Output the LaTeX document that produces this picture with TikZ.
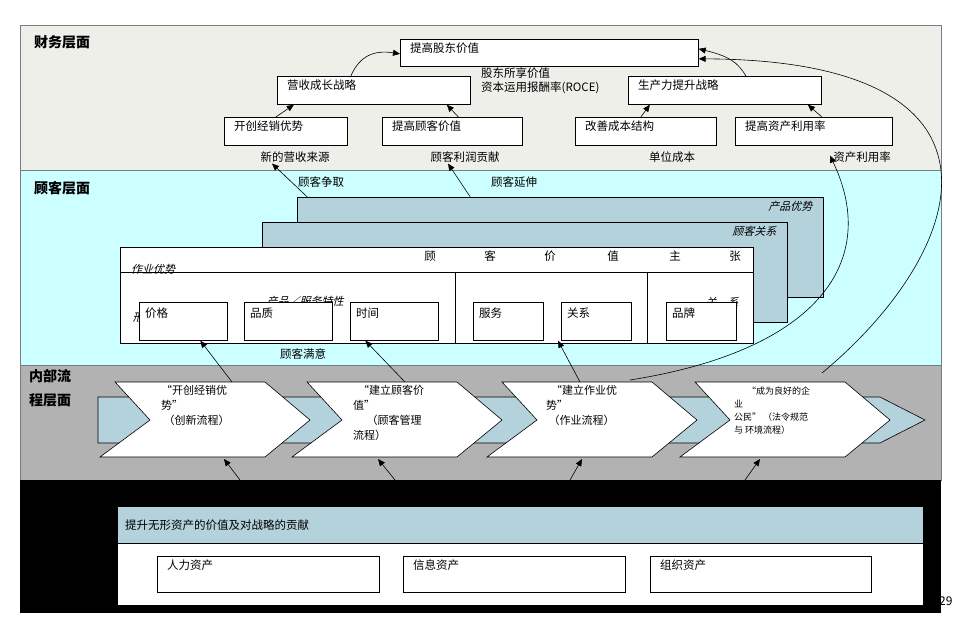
\documentclass[tikz,border=0pt]{standalone}
\usepackage{fontspec}
\setmainfont{Noto Sans CJK SC}
\newfontfamily\slfont{Noto Sans CJK SC}[FakeSlant=0.25]
\usetikzlibrary{arrows.meta}
\definecolor{finbg}{HTML}{EFEFEA}
\definecolor{custbg}{HTML}{CCFFFF}
\definecolor{intbg}{HTML}{B2B2B2}
\definecolor{cardbl}{HTML}{B4D2DC}
\tikzset{
  every node/.style={font=\fontsize{11.5}{13}\selectfont, inner sep=1pt},
  box/.style={draw=black, fill=white, line width=0.7pt, anchor=north west, inner sep=0pt},
  lbl/.style={anchor=north west, inner sep=0pt, xshift=10pt, yshift=-4pt},
  card/.style={draw=black, fill=cardbl, line width=0.6pt, anchor=north west, inner sep=0pt},
  arr/.style={-{Triangle[length=7pt,width=6pt]}, line width=0.6pt},
  title/.style={anchor=north west, font=\fontsize{14}{16}\selectfont\bfseries},
  chev/.style={draw=black, fill=white, line width=0.6pt},
  ctext/.style={anchor=north west, align=left, font=\fontsize{11}{15}\selectfont},
}
\begin{document}
\begin{tikzpicture}[x=1pt,y=-1pt]
\useasboundingbox (0,0) rectangle (959,618);
\fill[white] (0,0) rectangle (959,618);
% bands
\draw[fill=finbg, draw=black!60!cyan!40!gray] (20,25) rectangle (941,170);
\draw[fill=custbg, draw=black!60!cyan!40!gray] (20,170) rectangle (941,365);
\draw[fill=intbg, draw=black!60!cyan!40!gray] (20,365) rectangle (941,480);
\fill[black] (20,480) rectangle (941,613);
\node[title] (t1) at (33,34) {财务层面};
\node[title] (t2) at (33,180) {顾客层面};
\node[title, align=left, font=\fontsize{14}{24}\selectfont\bfseries] (t3) at (28,368) {内部流\\程层面};
\node[anchor=west, font=\fontsize{12}{13}\selectfont] (pg) at (938,601) {29};

% financial
\node[box, minimum width=298pt, minimum height=27pt, label={[lbl]north west:提高股东价值}] (sv) at (400,39) {};
\node[box, minimum width=193pt, minimum height=28pt, label={[lbl]north west:营收成长战略}] (gr) at (277,76) {};
\node[box, minimum width=193pt, minimum height=28pt, label={[lbl]north west:生产力提升战略}] (pr) at (628,76) {};
\node[anchor=north west, align=left, font=\fontsize{11.5}{14}\selectfont] (roce) at (480,67) {股东所享价值\\资本运用报酬率(ROCE)};
\node[box, minimum width=123pt, minimum height=28pt, label={[lbl]north west:开创经销优势}] (kc) at (224,117) {};
\node[box, minimum width=140pt, minimum height=28pt, label={[lbl]north west:提高顾客价值}] (tg) at (382,117) {};
\node[box, minimum width=141pt, minimum height=28pt, label={[lbl]north west:改善成本结构}] (gs) at (575,117) {};
\node[box, minimum width=157pt, minimum height=28pt, label={[lbl]north west:提高资产利用率}] (tz) at (735,117) {};
\node (nr) at (295,157) {新的营收来源};
\node (cp) at (465,157) {顾客利润贡献};
\node (uc) at (672,157) {单位成本};
\node (au) at (862,157) {资产利用率};

\draw[arr] ([xshift=-10pt]kc.north) -- ([xshift=-80pt]gr.south);
\draw[arr] ([xshift=6pt]tg.north) -- ([xshift=73pt]gr.south);
\draw[arr] ([xshift=-5pt]gs.north) -- ([xshift=-75pt]pr.south);
\draw[arr] ([xshift=8pt]tz.north) -- ([xshift=83pt]pr.south);
\draw[arr] ([xshift=-23pt]gr.north) .. controls (360,55) and (375,50) .. ([yshift=-1pt]sv.west);
\draw[arr] ([xshift=21pt]pr.north) .. controls (738,62) and (728,56) .. ([yshift=4pt]sv.east);

% customer cards
\node[card, minimum width=526pt, minimum height=100pt] (c1) at (297,197) {};
\node[anchor=north east, font=\fontsize{11}{12}\selectfont\slfont] (c1t) at ([xshift=-10pt,yshift=-3pt]c1.north east) {产品优势};
\node[card, minimum width=525pt, minimum height=100pt] (c2) at (262,222) {};
\node[anchor=north east, font=\fontsize{11}{12}\selectfont\slfont] (c2t) at ([xshift=-10pt,yshift=-3pt]c2.north east) {顾客关系};
\node[box, minimum width=633pt, minimum height=96pt, line width=0.6pt] (c3) at (120,247) {};
\draw[line width=0.6pt] (120,272) -- (753,272);
\draw[line width=0.6pt] (455,272) -- (455,343) (647,272) -- (647,343);
\foreach \ch/\xx in {顾/430,客/490,价/550,值/613,主/675,张/735}
  \node (h\xx) at (\xx,256) {\ch};
\node[anchor=north west, font=\fontsize{11}{12}\selectfont\slfont] (zy) at (130,263) {作业优势};
\node[font=\fontsize{11}{12}\selectfont\slfont] (cpx) at (305,301) {产品／服务特性};
\node[font=\fontsize{11}{12}\selectfont\slfont] (xx) at (138,317) {形};
\node[font=\fontsize{11}{12}\selectfont\slfont] (gx) at (722,302) {关\quad 系};
\node[box, minimum width=88pt, minimum height=38pt, label={[lbl,xshift=-4pt,yshift=-2pt]north west:价格}] (b1) at (139,302) {};
\node[box, minimum width=88pt, minimum height=38pt, label={[lbl,xshift=-4pt,yshift=-2pt]north west:品质}] (b2) at (244,302) {};
\node[box, minimum width=88pt, minimum height=38pt, label={[lbl,xshift=-4pt,yshift=-2pt]north west:时间}] (b3) at (350,302) {};
\node[box, minimum width=70pt, minimum height=38pt, label={[lbl,xshift=-4pt,yshift=-2pt]north west:服务}] (b4) at (473,302) {};
\node[box, minimum width=70pt, minimum height=38pt, label={[lbl,xshift=-4pt,yshift=-2pt]north west:关系}] (b5) at (561,302) {};
\node[box, minimum width=70pt, minimum height=38pt, label={[lbl,xshift=-4pt,yshift=-2pt]north west:品牌}] (b6) at (666,302) {};
\node (cs) at (303,354) {顾客满意};

\node[anchor=west] (qz) at (297,182) {顾客争取};
\node[anchor=west] (ys) at (490,182) {顾客延伸};
\draw[arr] ([xshift=-253pt]c1.north) -- ([xshift=-23pt]nr.south);
\draw[arr] ([xshift=-90pt]c1.north) -- ([xshift=-17pt]cp.south);

% internal strip
\draw[fill=cardbl, line width=0.6pt] (98,397) -- (880,397) -- (925,420) -- (880,443) -- (98,443) -- cycle;
\foreach \i/\o in {1/0,2/192,3/387,4/580}{
  \draw[chev] (115+\o,382) coordinate (ct\i) -- (265+\o,382) -- (310+\o,420) -- (265+\o,457) -- (100+\o,457) -- (150+\o,420) -- cycle;
}
\node[ctext] (x1) at (160,384) {“开创经销优\\势”\\\ （创新流程）};
\node[ctext] (x2) at (352,384) {\ \ “建立顾客价\\值”\\\quad\ （顾客管理\\流程）};
\node[ctext] (x3) at (545,384) {\ \ “建立作业优\\势”\\\ （作业流程）};
\node[ctext, font=\fontsize{9}{13}\selectfont] (x4) at (733,386) {\quad\ \ “成为良好的企\\业\\公民”\ （法令规范\\与\ 环境流程）};

\coordinate (u1) at (232,382); \coordinate (u2) at (405,382);
\coordinate (u3) at (580,382); \coordinate (u4a) at (630,380); \coordinate (u4) at (822,373);
\draw[arr] (u1) -- ([xshift=17pt]b1.south);
\draw[arr] (u2) -- ([xshift=-29pt]b3.south);
\draw[arr] (u3) -- ([xshift=-3pt]b5.south west);
\draw[arr] (u4a) .. controls (820,350) and (880,260) .. ([xshift=-32pt,yshift=8pt]au.south);
\draw[arr] (u4) .. controls (970,250) and (1030,60) .. ([yshift=-6pt]sv.east);

% learning
\coordinate (d1) at (240,480); \coordinate (d2) at (395,480);
\coordinate (d3) at (570,480); \coordinate (d4) at (745,480);
\coordinate (e1) at (224,459); \coordinate (e2) at (378,459);
\coordinate (e3) at (582,459); \coordinate (e4) at (760,459);
\foreach \i in {1,2,3,4} \draw[arr] (d\i) -- (e\i);
\node[draw=black, fill=cardbl, anchor=north west, minimum width=806pt, minimum height=37pt, inner sep=0pt, label={[anchor=west,inner sep=0pt,xshift=8pt]west:提升无形资产的价值及对战略的贡献}] (lh) at (117,506) {};
\node[draw=black, fill=white, anchor=north west, minimum width=806pt, minimum height=62pt, inner sep=0pt] (lb) at (117,543) {};
\node[box, minimum width=222pt, minimum height=36pt, label={[lbl]north west:人力资产}] (a1) at (157,556) {};
\node[box, minimum width=222pt, minimum height=36pt, label={[lbl]north west:信息资产}] (a2) at (403,556) {};
\node[box, minimum width=221pt, minimum height=36pt, label={[lbl]north west:组织资产}] (a3) at (650,556) {};
\end{tikzpicture}
\end{document}
